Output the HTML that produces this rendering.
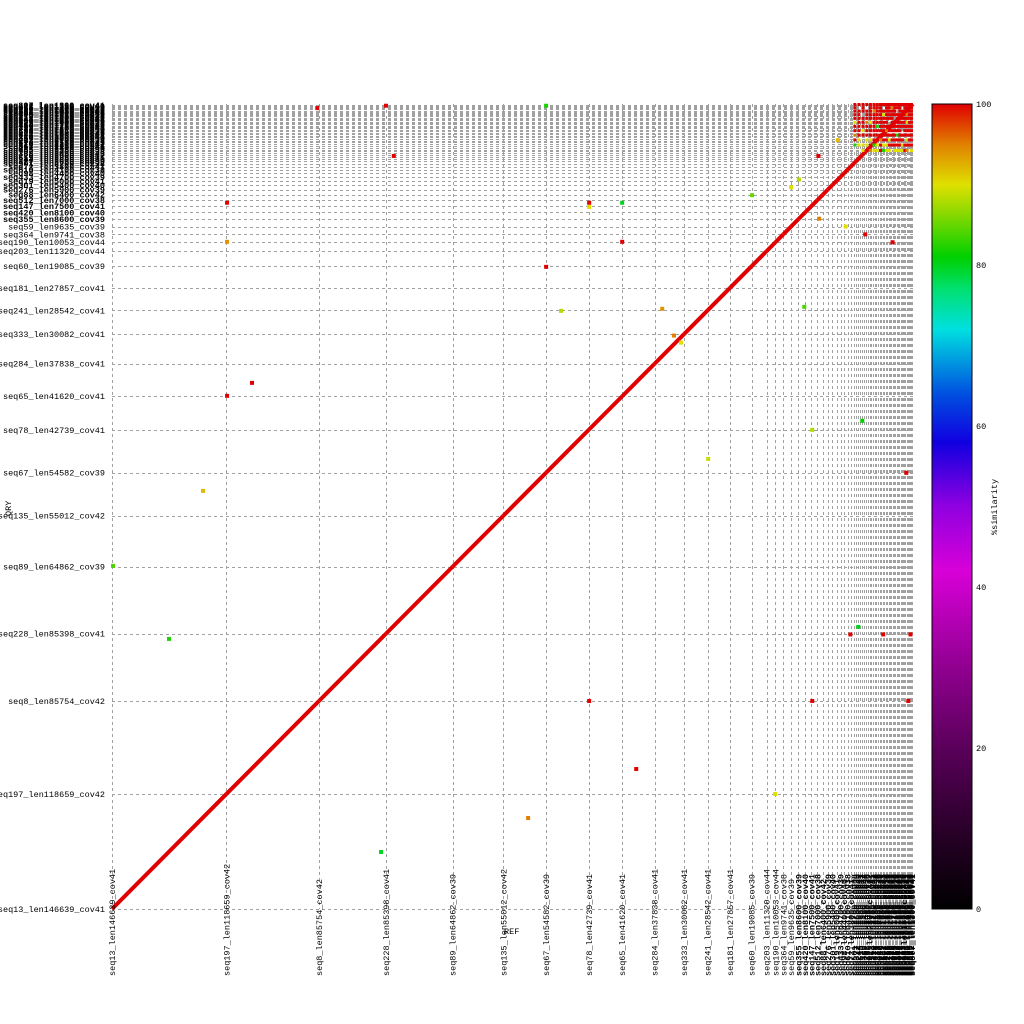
<!DOCTYPE html>
<html><head><meta charset="utf-8"><style>
html,body{margin:0;padding:0;background:#fff;width:1024px;height:1024px;overflow:hidden}
svg{display:block}
text{font-family:"Liberation Mono","DejaVu Sans Mono",monospace;font-size:8.5px;fill:#000}
</style></head><body>
<svg id="chart" width="1024" height="1024" viewBox="0 0 1024 1024" xmlns="http://www.w3.org/2000/svg">
<defs>
<linearGradient id="cg" x1="0" y1="1" x2="0" y2="0">
<stop offset="0" stop-color="#000000"/><stop offset="0.1" stop-color="#2a002a"/>
<stop offset="0.2" stop-color="#5a005a"/><stop offset="0.3" stop-color="#900090"/>
<stop offset="0.42" stop-color="#d800d8"/><stop offset="0.5" stop-color="#9000e0"/>
<stop offset="0.58" stop-color="#1000e0"/><stop offset="0.64" stop-color="#0050e0"/>
<stop offset="0.72" stop-color="#00e0e0"/><stop offset="0.77" stop-color="#00e070"/>
<stop offset="0.81" stop-color="#00d000"/><stop offset="0.86" stop-color="#80d800"/>
<stop offset="0.9" stop-color="#e0e000"/><stop offset="0.95" stop-color="#e08000"/>
<stop offset="1" stop-color="#e00000"/>
</linearGradient>
</defs>
<g id="grid"></g>
<g id="marks"></g>
<g id="labels"></g>
<text x="504" y="934">REF</text>
<text transform="translate(11,516) rotate(-90)">QRY</text>
<rect x="932" y="104" width="40" height="805" fill="url(#cg)" stroke="#000" stroke-width="1"/>
<g id="cbticks"></g>
<text transform="translate(997,535) rotate(-90)">%similarity</text>
</svg>
<script>
const contigNames=["seq13_len146639_cov41","seq197_len118659_cov42","seq8_len85754_cov42","seq228_len85398_cov41","seq89_len64862_cov39","seq135_len55012_cov42","seq67_len54582_cov39","seq78_len42739_cov41","seq65_len41620_cov41","seq284_len37838_cov41","seq333_len30082_cov41","seq241_len28542_cov41","seq181_len27857_cov41","seq60_len19085_cov39","seq203_len11320_cov44","seq190_len10053_cov44","seq364_len9741_cov38","seq59_len9635_cov39","seq355_len8600_cov39","seq420_len8100_cov40","seq147_len7500_cov41","seq512_len7000_cov38","seq88_len6400_cov42","seq276_len5900_cov39","seq301_len5400_cov40","seq19_len5000_cov41","seq433_len4700_cov39","seq98_len4400_cov40","seq610_len4100_cov38","seq72_len3800_cov41"];
const contigLengths=[146639,118659,85754,85398,64862,55012,54582,42739,41620,37838,30082,28542,27857,19085,11320,10053,9741,9635,8600,8100,7500,7000,6400,5900,5400,5000,4700,4400,4100,3800];
const smallIds=[501,377,244,615,120,388,702,455,91,563,310,678,233,417,850,129,642,371,588,266,733,199,480,314,925,157,806,348,612,277,719,403,94,538,861,222,690,315,472,807];
const smallLengths=[2700,2650,2600,2550,2500,2450,2400,2350,2300,2250,2200,2150,2100,2050,2000,1950,1900,1880,1850,1820,1800,1780,1750,1720,1700,1680,1650,1620,1600,1580,1550,1520,1500,1480,1450,1420,1400,1380,1350,1300];
// off-diagonal hits: ref bp, qry bp, identity %
const hitRef=[179400,116600,73000,1300,344700,533100,671600,611300,147400,763800,961200,956100,897100,1020200,849700,897100,653600,147400,147400,611300,611300,653600,575400,704900,720000,729000,886900,556200,263000,351000,556200,361000,1017600,1023000,988000,946000,820000,870000,880000,906000,940000,965000,1000000,905000,930000];
const hitQry=[670700,533000,344300,437400,72700,116000,178500,265200,654200,573800,622300,359600,265200,265200,146600,610800,850500,850500,900300,900300,895000,900300,762500,765100,731000,722000,767600,818600,1021000,1024000,1024000,960000,556000,350000,350000,350000,910000,920000,930000,880000,870000,860000,850000,960000,980000];
const hitIdent=[100,92,82,84,80,95,100,100,100,89,81,80,100,100,90,88,100,94,100,100,90,80,88,94,95,90,84,100,100,100,82,100,100,100,100,100,85,90,88,95,90,100,100,100,92];
// dense repeat block among small contigs (r=100,o=95,y=90,g=82,.=none)
const denseRows=["rrrrrrrrrrrrrrrrrrrr","r.r.rrrr.rrorrr.rrrr","rrrrrorrrrrrr.rrrrrr","rr.rrrrryrrrrrrrrorr","rrrrrrrrrrrr.rrrrrrr","yrroyrrrrr.rrrrrryrr","rrrrrrgrrrrrrrrrrrrr","rryrrrrrrorrrrr.rrrr","orrrrrrrrrrrrgrrrrrr","ry.yyrrorryrrrrr.yrr","gyyyrgyryyrrrrryrrrr","..y.oyyrgyy.yyyyro.y"];
const tickVals=[0,20,40,60,80,100];

const NS="http://www.w3.org/2000/svg";
const allNames=contigNames.concat(smallIds.map((id,i)=>"seq"+id+"_len"+smallLengths[i]+"_cov"+(38+i%6)));
const allLens=contigLengths.concat(smallLengths);
const total=allLens.reduce((a,b)=>a+b,0);
const X0=112,X1=913,Y0=909,Y1=104;
const xs=v=>X0+v/total*(X1-X0);
const ys=v=>Y0-v/total*(Y0-Y1);
const starts=[];let acc=0;allLens.forEach(l=>{starts.push(acc);acc+=l;});
function col(p){
  const st=[[0,[0,0,0]],[20,[90,0,90]],[30,[144,0,144]],[42,[216,0,216]],[50,[144,0,224]],[58,[16,0,224]],[64,[0,80,224]],[72,[0,224,224]],[77,[0,224,112]],[81,[0,208,0]],[86,[128,216,0]],[90,[224,224,0]],[95,[224,128,0]],[100,[224,0,0]]];
  for(let i=1;i<st.length;i++){if(p<=st[i][0]){const a=st[i-1],b=st[i],t=(p-a[0])/(b[0]-a[0]);const c=a[1].map((v,k)=>Math.round(v+(b[1][k]-v)*t));return "rgb("+c.join(",")+")";}}
  return "rgb(224,0,0)";
}
const grid=document.getElementById('grid'),marks=document.getElementById('marks'),labels=document.getElementById('labels');
starts.forEach((s,i)=>{
  const x=Math.round(xs(s))+0.5,y=Math.round(ys(s))+0.5;
  const v=document.createElementNS(NS,'line');
  
  
  v.setAttribute('x1',x);v.setAttribute('x2',x);v.setAttribute('y1',Y1);v.setAttribute('y2',Y0);
  v.setAttribute('stroke','#a0a0a0');v.setAttribute('stroke-dasharray','3,3');v.setAttribute('shape-rendering','crispEdges');
  grid.appendChild(v);
  const h=document.createElementNS(NS,'line');
  
  
  h.setAttribute('x1',X0);h.setAttribute('x2',X1);h.setAttribute('y1',y);h.setAttribute('y2',y);
  h.setAttribute('stroke','#a0a0a0');h.setAttribute('stroke-dasharray','3,3');h.setAttribute('shape-rendering','crispEdges');
  grid.appendChild(h);
  const ty=document.createElementNS(NS,'text');
  
  
  ty.setAttribute('x',105);ty.setAttribute('y',ys(s)+3);ty.setAttribute('text-anchor','end');
  if(i>=18)ty.setAttribute('font-weight','bold');
  ty.textContent=allNames[i];labels.appendChild(ty);
  const tx=document.createElementNS(NS,'text');
  
  
  tx.setAttribute('transform','translate('+(xs(s)+3)+',976) rotate(-90)');
  if(i>=18)tx.setAttribute('font-weight','bold');
  tx.textContent=allNames[i];labels.appendChild(tx);
  const d=document.createElementNS(NS,'line');
  
  
  d.setAttribute('x1',xs(s));d.setAttribute('y1',ys(s));d.setAttribute('x2',xs(s+allLens[i]));d.setAttribute('y2',ys(s+allLens[i]));
  d.setAttribute('stroke','#e00000');d.setAttribute('stroke-width','4');
  marks.appendChild(d);
});
hitRef.forEach((r,i)=>{
  const m=document.createElementNS(NS,'rect');
  
  
  m.setAttribute('x',xs(r)-2);m.setAttribute('y',ys(hitQry[i])-2);m.setAttribute('width',4);m.setAttribute('height',4);
  m.setAttribute('fill',col(hitIdent[i]));marks.appendChild(m);
});
const idMap={r:100,o:95,y:90,g:82};
const firstDense=contigLengths.length;
denseRows.forEach((row,ri)=>{
  const qi=allLens.length-1-ri*3;
  row.split('').forEach((c,ci)=>{
    if(c==='.')return;
    const rj=firstDense+ci*2;
    const m=document.createElementNS(NS,'rect');
    
    
    m.setAttribute('x',xs(starts[rj]+allLens[rj]/2)-1.5);m.setAttribute('y',ys(starts[qi]+allLens[qi]/2)-1.5);
    m.setAttribute('width',3);m.setAttribute('height',3);m.setAttribute('fill',col(idMap[c]));
    marks.appendChild(m);
  });
});
const cb=document.getElementById('cbticks');
tickVals.forEach(v=>{
  const t=document.createElementNS(NS,'text');
  
  
  const y=909-v/100*805;
  t.setAttribute('x',976);t.setAttribute('y',y+3);t.textContent=v;cb.appendChild(t);
});
</script>
</body></html>
